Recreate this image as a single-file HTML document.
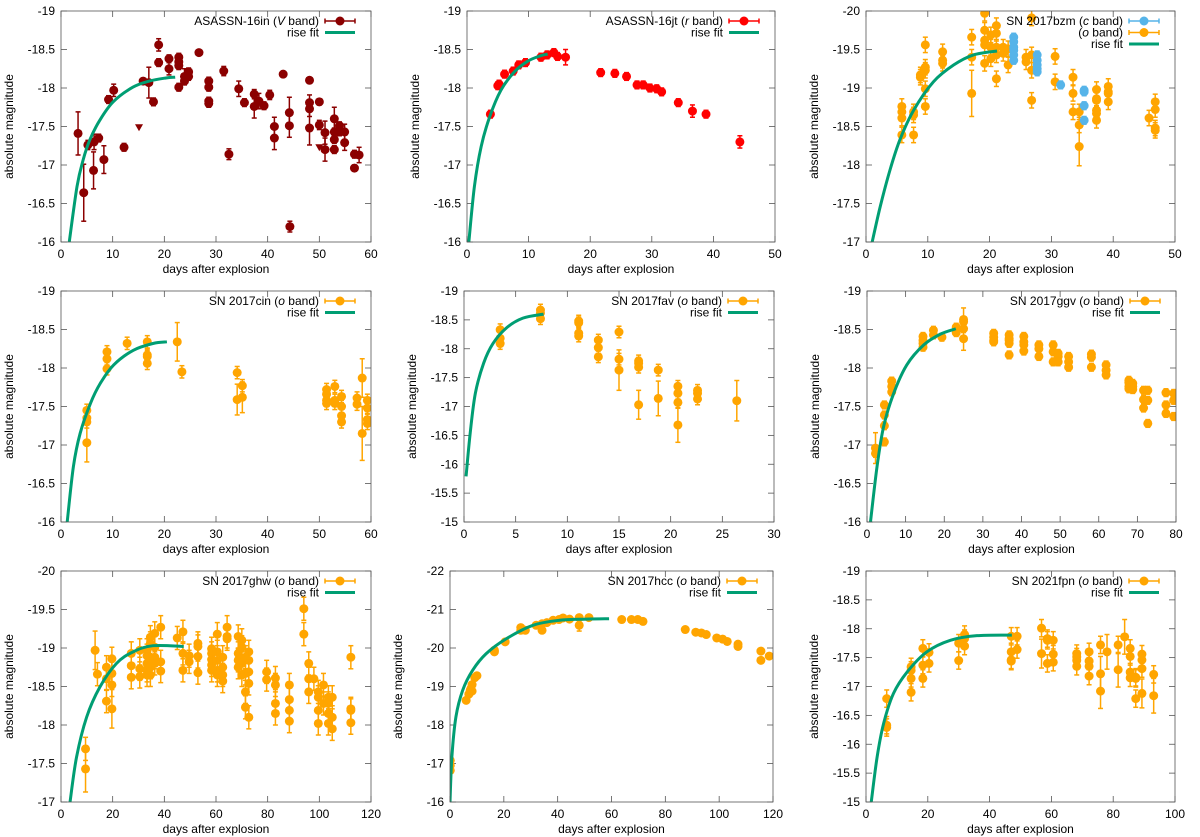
<!DOCTYPE html>
<html><head><meta charset="utf-8">
<style>
html,body{margin:0;padding:0;background:#fff;}
svg{display:block;font-family:"Liberation Sans",Arial,sans-serif;}
</style></head>
<body>
<svg id="fig" width="1200" height="837" viewBox="0 0 1200 837" xmlns="http://www.w3.org/2000/svg"></svg>
<script>
// ---------- data (days after explosion, absolute magnitude[, error]) ----------
const p1Points=[[3.3,-17.41,0.28],[4.4,-16.64,0.37],[5.2,-17.26,0.06],[6.3,-16.93,0.24],[6.4,-17.30,0.1],[7.3,-17.35,0.05],[8.3,-17.07,0.18],[9.2,-17.85,0.05],[10.2,-17.97,0.08],[12.2,-17.23,0.05],[15.9,-18.09,0.03],[17.0,-18.07,0.2],[17.9,-17.82,0.05],[18.9,-18.33,0.05],[18.9,-18.56,0.08],[20.9,-18.38,0.05],[20.9,-18.25,0.08],[22.8,-18.40,0.05],[22.8,-18.34,0.05],[22.8,-18.29,0.05],[22.8,-18.01,0.05],[23.9,-18.15,0.1],[23.9,-18.09,0.05],[24.7,-18.15,0.05],[24.7,-18.21,0.05],[26.7,-18.46,0.03],[28.6,-18.09,0.05],[28.6,-18.01,0.05],[28.6,-17.83,0.05],[28.6,-17.80,0.05],[31.5,-18.22,0.06],[32.5,-17.14,0.07],[34.4,-17.99,0.1],[35.5,-17.81,0.05],[37.4,-17.92,0.06],[37.4,-17.76,0.15],[38.3,-17.83,0.1],[39.3,-17.77,0.05],[40.4,-17.91,0.06],[41.3,-17.50,0.12],[41.3,-17.35,0.15],[43.0,-18.18,0.03],[44.2,-17.68,0.2],[44.2,-17.51,0.15],[44.3,-16.20,0.07],[48.1,-18.10,0.03],[48.1,-17.81,0.1],[48.1,-17.73,0.1],[48.1,-17.48,0.22],[50.0,-17.82,0.04],[50.0,-17.52,0.06],[51.1,-17.42,0.15],[51.1,-17.20,0.15],[52.9,-17.60,0.15],[52.9,-17.43,0.05],[52.9,-17.33,0.05],[52.9,-17.20,0.05],[53.9,-17.51,0.05],[53.9,-17.43,0.05],[54.9,-17.43,0.1],[54.9,-17.29,0.1],[56.8,-17.14,0.05],[56.8,-16.96,0.04],[57.7,-17.13,0.1]];
const p1Limits=[[15.1,-17.49],[50.0,-17.23]];
const p1Fit=[[1.6,-16],[3.1,-16.72],[4.3,-17.07],[5.6,-17.33],[7.5,-17.58],[10.1,-17.82],[13.9,-18.01],[17.1,-18.09],[20.3,-18.13],[22.1,-18.14]];

const p2Points=[[3.8,-17.66],[5.0,-18.03],[5.2,-18.05],[6.1,-18.18],[7.5,-18.22],[8.4,-18.30],[9.5,-18.33],[12.0,-18.40],[13.0,-18.43],[14.1,-18.46],[14.7,-18.41],[16.0,-18.40,0.1],[21.7,-18.20],[24.0,-18.19],[25.9,-18.15],[27.6,-18.04],[28.6,-18.04],[29.7,-18.00],[30.8,-17.99],[31.6,-17.95],[34.3,-17.81],[36.6,-17.70,0.08],[38.8,-17.66],[44.3,-17.30,0.08]];
const p2Fit=[[0.3,-16],[1.2,-16.72],[2.3,-17.24],[3.7,-17.63],[5.5,-17.97],[7.7,-18.21],[9.9,-18.35],[12.0,-18.42],[13.1,-18.44]];

const p3OPoints=[[5.8,-18.76],[5.8,-18.69],[5.8,-18.61],[5.8,-18.39],[7.7,-18.69],[7.7,-18.65],[7.7,-18.39],[8.8,-19.17],[8.8,-19.14],[9.6,-19.56],[9.6,-19.27],[9.6,-19.23],[9.6,-18.99],[9.6,-18.76],[12.4,-19.47],[12.4,-19.36],[12.4,-19.32],[17.1,-19.66],[17.1,-19.40],[17.1,-18.93,0.3],[19.2,-19.97],[19.2,-19.75],[19.2,-19.62],[19.2,-19.56],[19.2,-19.32],[20.2,-19.69],[20.2,-19.53],[20.2,-19.38],[21.1,-19.81],[21.1,-19.71],[21.1,-19.53],[21.1,-19.43],[21.1,-19.12],[22.2,-19.53],[22.2,-19.45],[23.0,-19.51],[23.0,-19.30],[25.9,-19.40],[25.9,-19.34],[26.8,-19.91],[26.8,-19.43],[26.8,-19.23],[26.8,-18.84],[30.6,-19.41],[30.6,-19.08],[33.5,-19.14],[33.5,-18.93],[33.5,-18.69],[34.5,-18.69],[34.5,-18.52],[34.5,-18.24,0.25],[37.3,-18.98],[37.3,-18.86],[37.3,-18.84],[37.3,-18.71],[37.3,-18.67],[37.3,-18.58],[39.2,-19.02],[39.2,-18.95],[39.2,-18.93],[39.2,-18.82],[45.8,-18.61],[46.8,-18.82],[46.8,-18.72],[46.8,-18.48],[46.8,-18.45]];
const p3CPoints=[[23.9,-19.66],[23.9,-19.60],[23.9,-19.53],[23.9,-19.49],[23.9,-19.43],[23.9,-19.36],[27.7,-19.43],[27.7,-19.36],[27.7,-19.30],[27.7,-19.25],[27.7,-19.21],[31.5,-19.04],[35.3,-18.97],[35.3,-18.95],[35.3,-18.77],[35.3,-18.58]];
const p3Fit=[[1.0,-17],[2.3,-17.46],[3.9,-17.94],[5.5,-18.33],[7.7,-18.71],[10.9,-19.08],[14.2,-19.30],[17.4,-19.43],[21.2,-19.48]];

const p4Points=[[5.0,-17.45],[5.0,-17.35],[5.0,-17.30],[5.0,-17.03,0.25],[8.9,-18.21],[8.9,-18.12],[8.9,-17.99],[12.8,-18.32],[16.7,-18.34],[16.7,-18.17],[16.7,-18.15],[16.7,-18.06],[22.5,-18.34,0.25],[23.4,-17.95],[34.1,-17.94],[34.1,-17.59,0.2],[35.1,-17.77],[35.1,-17.62,0.2],[51.4,-17.72],[51.4,-17.66],[51.4,-17.58],[51.4,-17.54],[53.0,-17.76],[53.0,-17.58],[53.0,-17.54],[54.3,-17.63],[54.3,-17.50],[54.3,-17.38],[54.3,-17.30],[57.3,-17.61],[57.3,-17.53],[58.3,-17.87,0.25],[58.3,-17.15,0.35],[59.3,-17.58],[59.3,-17.48],[59.3,-17.33],[59.3,-17.28]];
const p4Fit=[[1.2,-16],[2.4,-16.72],[3.7,-17.15],[5.7,-17.54],[7.6,-17.80],[10.2,-18.04],[14.0,-18.23],[17.9,-18.32],[20.5,-18.34]];

const p5Points=[[3.5,-18.33],[3.5,-18.18],[3.5,-18.09],[7.4,-18.67],[7.4,-18.62],[7.4,-18.52],[11.1,-18.48],[11.1,-18.45],[11.1,-18.27],[11.1,-18.22],[13.0,-18.15],[13.0,-18.02],[13.0,-17.86],[15.0,-18.29],[15.0,-17.82],[15.0,-17.63,0.35],[16.9,-17.79],[16.9,-17.75],[16.9,-17.68],[16.9,-17.03,0.25],[18.8,-17.63],[18.8,-17.14,0.3],[20.7,-17.35],[20.7,-17.23],[20.7,-17.07],[20.7,-16.68,0.3],[22.6,-17.28],[22.6,-17.23],[22.6,-17.13],[26.4,-17.10,0.35]];
const p5Fit=[[0.2,-15.79],[0.6,-16.54],[1.1,-17.23],[1.9,-17.75],[2.8,-18.09],[4.1,-18.36],[5.7,-18.53],[7.7,-18.60]];

const p6Points=[[2.2,-16.96,0.2],[2.2,-16.89],[4.5,-17.52],[4.5,-17.39],[4.5,-17.25],[4.5,-17.04],[6.4,-17.83],[6.4,-17.76],[6.4,-17.69],[14.5,-18.41],[14.5,-18.36],[14.5,-18.32],[14.5,-18.27],[17.2,-18.49],[17.2,-18.43],[19.4,-18.40],[23.1,-18.53],[23.1,-18.46],[25.0,-18.63,0.15],[25.0,-18.60],[25.0,-18.51],[25.0,-18.38,0.15],[32.8,-18.45],[32.8,-18.40],[32.8,-18.36],[32.8,-18.34],[36.8,-18.43],[36.8,-18.38],[36.8,-18.36],[36.8,-18.32],[36.8,-18.17],[40.6,-18.41],[40.6,-18.34],[40.6,-18.30],[40.6,-18.22],[44.5,-18.30],[44.5,-18.25],[44.5,-18.15],[48.2,-18.30],[48.2,-18.21],[48.2,-18.08],[49.5,-18.19],[49.5,-18.15],[49.5,-18.08],[52.2,-18.15],[52.2,-18.08],[52.2,-18.01],[58.1,-18.18],[58.1,-18.14],[58.1,-18.01],[61.9,-18.04],[61.9,-17.97],[61.9,-17.91],[67.8,-17.84],[67.8,-17.81],[67.8,-17.76],[67.8,-17.73],[68.8,-17.80],[68.8,-17.76],[68.8,-17.72],[71.6,-17.71],[71.6,-17.59],[71.6,-17.48],[72.7,-17.71],[72.7,-17.58],[72.7,-17.28],[77.4,-17.68],[77.4,-17.52],[77.4,-17.41],[79.4,-17.67],[79.4,-17.58],[79.4,-17.37]];
const p6Fit=[[0.9,-16],[2.6,-16.72],[4.3,-17.24],[6.9,-17.67],[10.3,-18.04],[14.7,-18.30],[19.0,-18.44],[23.0,-18.51]];

const p7Points=[[9.5,-17.69],[9.5,-17.43,0.3],[13.2,-18.97,0.25],[14.1,-18.66],[17.6,-18.75],[17.6,-18.60],[17.6,-18.31],[19.7,-18.86],[19.7,-18.67],[19.7,-18.52],[19.7,-18.21,0.25],[27.2,-18.93],[27.2,-18.77],[27.2,-18.62],[30.5,-18.97],[30.5,-18.73],[30.5,-18.63],[33.3,-18.97],[33.3,-18.90],[33.3,-18.80],[33.3,-18.71],[33.3,-18.65],[34.6,-19.14],[34.6,-19.06],[34.6,-18.88],[34.6,-18.75],[34.6,-18.65],[36.3,-19.19],[36.3,-19.01],[36.3,-18.88],[36.3,-18.80],[38.6,-19.27],[38.6,-18.82],[38.6,-18.70],[45.0,-19.13],[47.2,-19.21],[47.2,-18.93],[47.2,-18.71],[49.6,-18.90],[49.6,-18.82],[53.0,-19.06],[53.0,-19.02],[53.0,-18.89],[53.0,-18.68],[58.3,-18.99],[58.3,-18.93],[58.3,-18.85],[58.3,-18.78],[58.3,-18.71],[60.5,-19.18],[60.5,-18.95],[60.5,-18.84],[60.5,-18.71],[60.5,-18.65],[62.6,-18.88],[62.6,-18.75],[62.6,-18.65],[62.6,-18.57],[64.3,-19.27],[64.3,-19.15],[64.3,-19.12],[68.6,-19.15],[68.6,-18.93],[68.6,-18.84],[68.6,-18.75],[70.0,-19.10],[70.0,-19.01],[70.0,-18.80],[70.0,-18.65],[71.4,-18.88],[71.4,-18.67],[71.4,-18.43],[71.4,-18.23],[72.7,-18.95],[72.7,-18.84],[72.7,-18.69],[72.7,-18.54],[72.7,-18.10],[79.6,-18.69],[79.6,-18.59],[83.0,-18.61],[83.0,-18.52],[83.0,-18.28],[83.0,-18.15],[88.4,-18.52],[88.4,-18.33],[88.4,-18.19],[88.4,-18.05],[94.0,-19.51],[94.0,-19.18],[95.9,-18.80],[95.9,-18.60],[95.9,-18.43],[97.9,-18.60],[99.6,-18.43],[99.6,-18.36],[99.6,-18.19],[99.6,-18.02],[101.6,-18.52],[101.6,-18.28],[103.5,-18.36],[103.5,-18.28],[103.5,-18.15],[103.5,-18.02],[105.0,-18.36],[105.0,-18.10],[105.0,-17.95],[112.2,-18.88],[112.2,-18.21],[112.2,-18.19],[112.2,-18.03]];
const p7Fit=[[3.5,-17],[6.0,-17.58],[9.9,-18.10],[15.0,-18.49],[21.5,-18.80],[27.9,-18.95],[35.6,-19.03],[47.5,-19.02]];

const p8Points=[[0.1,-17.08],[0.1,-16.95],[0.1,-16.82],[6.0,-18.64],[7.0,-18.80],[7.5,-18.90],[7.8,-18.95],[8.2,-19.05],[8.2,-18.88],[9.2,-19.23],[10.0,-19.28],[16.5,-19.94],[16.5,-19.90],[20.5,-20.16],[26.3,-20.53],[26.3,-20.46],[28.0,-20.46],[32.0,-20.59],[34.2,-20.63],[34.2,-20.46],[36.0,-20.66],[38.3,-20.72],[40.5,-20.74],[42.0,-20.78],[44.4,-20.75],[48.0,-20.79],[48.0,-20.59,0.15],[51.6,-20.79],[63.8,-20.74],[67.4,-20.74],[69.8,-20.74],[71.7,-20.69],[87.4,-20.48],[91.3,-20.41],[93.4,-20.39],[95.2,-20.35],[99.1,-20.26],[101.3,-20.23],[103.0,-20.17],[107.0,-20.10],[107.0,-20.04],[115.5,-19.92],[115.5,-19.68],[118.6,-19.79]];
const p8Fit=[[0,-16],[0.7,-17.17],[2.2,-18.21],[4.7,-18.90],[8.4,-19.42],[13.4,-19.85],[20.9,-20.24],[30.8,-20.59],[40.7,-20.72],[50.7,-20.75],[59.1,-20.76]];

const p9Points=[[6.7,-16.79],[6.7,-16.33],[6.7,-16.29],[14.6,-17.34],[14.6,-17.28],[14.6,-17.14],[14.6,-16.90],[18.4,-17.66],[18.4,-17.37],[18.4,-17.14],[20.4,-17.59],[20.4,-17.40],[30.0,-17.75],[30.0,-17.45],[31.9,-17.90],[31.9,-17.83],[31.9,-17.70],[47.0,-17.87],[47.0,-17.60],[47.0,-17.46],[47.0,-17.44],[48.9,-17.87],[48.9,-17.64],[56.8,-18.01],[56.8,-17.57,0.25],[58.7,-17.83],[58.7,-17.80],[58.7,-17.40],[60.6,-17.80],[60.6,-17.56],[60.6,-17.42],[68.2,-17.57],[68.2,-17.51],[68.2,-17.45],[68.2,-17.35],[72.2,-17.60],[72.2,-17.44],[72.2,-17.35],[72.2,-17.18],[75.9,-17.72],[75.9,-17.22,0.3],[75.9,-16.92,0.3],[78.0,-17.60,0.3],[81.6,-17.72],[81.6,-17.29,0.3],[83.7,-17.86,0.3],[85.5,-17.66],[85.5,-17.52],[85.5,-17.25],[85.5,-17.15],[87.3,-17.16],[87.3,-17.14],[87.3,-16.79],[89.3,-17.56],[89.3,-17.46],[89.3,-17.31],[89.3,-16.88,0.25],[93.1,-17.21],[93.1,-16.84,0.3]];
const p9Fit=[[1.7,-15],[3.6,-15.78],[5.7,-16.36],[8.9,-16.88],[13.3,-17.25],[19.7,-17.60],[27.3,-17.80],[35.9,-17.88],[47.2,-17.89]];

// ---------- layout ----------
const NS="http://www.w3.org/2000/svg";
const svg=document.getElementById('fig');
function mk(tag,attrs,parent){const e=document.createElementNS(NS,tag);for(const k in attrs)e.setAttribute(k,attrs[k]);(parent||svg).appendChild(e);return e;}
const DARKRED="#8b0000",RED="#ff0000",ORANGE="#ffa500",BLUE="#56b4e9",GREEN="#009e73",FRAME="#555";

const panels=[
 {id:'asassn-16in',L:61,R:371,T:11,B:242,x0:0,x1:60,xs:10,y0:-19,y1:-16,ys:0.5,series:[{pts:p1Points,col:DARKRED,err:0.06}],lim:p1Limits,fit:p1Fit,leg:[['ASASSN-16in (',"V",' band)',DARKRED]]},
 {id:'asassn-16jt',L:467,R:775,T:11,B:242,x0:0,x1:50,xs:10,y0:-19,y1:-16,ys:0.5,series:[{pts:p2Points,col:RED,err:0.05}],fit:p2Fit,leg:[['ASASSN-16jt (',"r",' band)',RED]]},
 {id:'sn2017bzm',L:866,R:1175,T:11,B:242,x0:0,x1:50,xs:10,y0:-20,y1:-17,ys:0.5,series:[{pts:p3OPoints,col:ORANGE,err:0.1},{pts:p3CPoints,col:BLUE,err:0.05}],fit:p3Fit,leg:[['SN 2017bzm (',"c",' band)',BLUE],['(',"o",' band)',ORANGE]]},
 {id:'sn2017cin',L:61,R:371,T:291,B:522,x0:0,x1:60,xs:10,y0:-19,y1:-16,ys:0.5,series:[{pts:p4Points,col:ORANGE,err:0.08}],fit:p4Fit,leg:[['SN 2017cin (',"o",' band)',ORANGE]]},
 {id:'sn2017fav',L:464,R:774,T:291,B:522,x0:0,x1:30,xs:5,y0:-19,y1:-15,ys:0.5,series:[{pts:p5Points,col:ORANGE,err:0.1}],fit:p5Fit,leg:[['SN 2017fav (',"o",' band)',ORANGE]]},
 {id:'sn2017ggv',L:867,R:1176,T:291,B:522,x0:0,x1:80,xs:10,y0:-19,y1:-16,ys:0.5,series:[{pts:p6Points,col:ORANGE,err:0.05}],fit:p6Fit,leg:[['SN 2017ggv (',"o",' band)',ORANGE]]},
 {id:'sn2017ghw',L:61,R:371,T:571,B:802,x0:0,x1:120,xs:20,y0:-20,y1:-17,ys:0.5,series:[{pts:p7Points,col:ORANGE,err:0.15}],fit:p7Fit,leg:[['SN 2017ghw (',"o",' band)',ORANGE]]},
 {id:'sn2017hcc',L:450,R:773,T:571,B:802,x0:0,x1:120,xs:20,y0:-22,y1:-16,ys:1,series:[{pts:p8Points,col:ORANGE,err:0.04}],fit:p8Fit,leg:[['SN 2017hcc (',"o",' band)',ORANGE]]},
 {id:'sn2021fpn',L:866,R:1175,T:571,B:802,x0:0,x1:100,xs:20,y0:-19,y1:-15,ys:0.5,series:[{pts:p9Points,col:ORANGE,err:0.15}],fit:p9Fit,leg:[['SN 2021fpn (',"o",' band)',ORANGE]]}
];

function fmt(v){return (Math.round(v*100)/100).toString();}

panels.forEach(p=>{
 const g=mk('g',{});
 
 
 const X=d=>p.L+(d-p.x0)/(p.x1-p.x0)*(p.R-p.L);
 const Y=m=>p.T+(m-p.y0)/(p.y1-p.y0)*(p.B-p.T);
 const cid='clip-'+p.id;
 const cp=mk('clipPath',{id:cid},g);mk('rect',{x:p.L,y:p.T,width:p.R-p.L,height:p.B-p.T},cp);
 const tg=mk('g',{},g);
 
 
 const ny=Math.round((p.y1-p.y0)/p.ys);
 for(let i=0;i<=ny;i++){const v=p.y0+i*p.ys,y=Y(v);
  mk('line',{x1:p.L,x2:p.L+6,y1:y,y2:y,stroke:FRAME,'stroke-width':0.8},tg);
  mk('line',{x1:p.R,x2:p.R-6,y1:y,y2:y,stroke:FRAME,'stroke-width':0.8},tg);
  const t=mk('text',{x:p.L-6,y:y+4,'text-anchor':'end','font-size':12,fill:'#000'},tg);t.textContent=fmt(v);
  
  }
 const xg=mk('g',{},g);
 
 
 const nx=Math.round((p.x1-p.x0)/p.xs);
 for(let i=0;i<=nx;i++){const v=p.x0+i*p.xs,x=X(v);
  mk('line',{x1:x,x2:x,y1:p.B,y2:p.B-6,stroke:FRAME,'stroke-width':0.8},xg);
  mk('line',{x1:x,x2:x,y1:p.T,y2:p.T+6,stroke:FRAME,'stroke-width':0.8},xg);
  const t=mk('text',{x:x,y:p.B+16,'text-anchor':'middle','font-size':12,fill:'#000'},xg);t.textContent=fmt(v);
  
  }
 const yl=mk('text',{x:0,y:0,transform:`translate(${p.L-48},${(p.T+p.B)/2}) rotate(-90)`,'text-anchor':'middle','font-size':12,fill:'#000'},g);
 yl.textContent='absolute magnitude';
 
 
 const xl=mk('text',{x:(p.L+p.R)/2,y:p.B+31,'text-anchor':'middle','font-size':12,fill:'#000'},g);
 xl.textContent='days after explosion';
 
 
 const dg=mk('g',{'clip-path':`url(#${cid})`},g);
 
 
 p.series.forEach((s,si)=>{
  const sg=mk('g',{},dg);
  
  
  s.pts.forEach(pt=>{
   const x=X(pt[0]),y=Y(pt[1]),e=pt.length>2?pt[2]:s.err;
   const ya=Y(pt[1]-e),yb=Y(pt[1]+e);
   mk('line',{x1:x,x2:x,y1:ya,y2:yb,stroke:s.col,'stroke-width':1.5},sg);
   mk('line',{x1:x-2.5,x2:x+2.5,y1:ya,y2:ya,stroke:s.col,'stroke-width':1.5},sg);
   mk('line',{x1:x-2.5,x2:x+2.5,y1:yb,y2:yb,stroke:s.col,'stroke-width':1.5},sg);
   const c=mk('circle',{cx:x,cy:y,r:4.5,fill:s.col},sg);
   
   
  });
 });
 if(p.lim){p.lim.forEach(pt=>{const x=X(pt[0]),y=Y(pt[1]);
  const tr=mk('polygon',{points:`${x-4},${y-3} ${x+4},${y-3} ${x},${y+4}`,fill:DARKRED},dg);
  
  });}
 const f=p.fit.map(q=>[X(q[0]),Y(q[1])]);
 let d=`M${f[0][0]},${f[0][1]}`;
 for(let i=0;i<f.length-1;i++){const a=f[Math.max(0,i-1)],b=f[i],c=f[i+1],e2=f[Math.min(f.length-1,i+2)];
  d+=` C${b[0]+(c[0]-a[0])/6},${b[1]+(c[1]-a[1])/6} ${c[0]-(e2[0]-b[0])/6},${c[1]-(e2[1]-b[1])/6} ${c[0]},${c[1]}`;}
 const fp=mk('path',{d:d,fill:'none',stroke:GREEN,'stroke-width':3},dg);
 
 
 const fr=mk('rect',{x:p.L,y:p.T,width:p.R-p.L,height:p.B-p.T,fill:'none',stroke:FRAME,'stroke-width':0.8},g);
 
 
 const lg=mk('g',{},g);
 
 
 const entries=p.leg.concat([['rise fit',null,null,GREEN]]);
 entries.forEach((en,i)=>{
  const y=p.T+10+i*11.5;
  const t=mk('text',{x:p.R-52,y:y+4,'text-anchor':'end','font-size':12,fill:'#000'},lg);
  
  
  if(en[1]===null){t.textContent=en[0];
   mk('line',{x1:p.R-46,x2:p.R-16,y1:y,y2:y,stroke:GREEN,'stroke-width':3},lg);}
  else{
   const a=mk('tspan',{},t);a.textContent=en[0];
   const b=mk('tspan',{'font-style':'italic'},t);b.textContent=en[1];
   const c=mk('tspan',{},t);c.textContent=en[2];
   const col=en[3],x1=p.R-46,x2=p.R-16;
   mk('line',{x1:x1,x2:x2,y1:y,y2:y,stroke:col,'stroke-width':1.5},lg);
   mk('line',{x1:x1,x2:x1,y1:y-2.5,y2:y+2.5,stroke:col,'stroke-width':1.5},lg);
   mk('line',{x1:x2,x2:x2,y1:y-2.5,y2:y+2.5,stroke:col,'stroke-width':1.5},lg);
   mk('circle',{cx:(x1+x2)/2,cy:y,r:4.5,fill:col},lg);
  }
 });
});
</script>
</body></html>
